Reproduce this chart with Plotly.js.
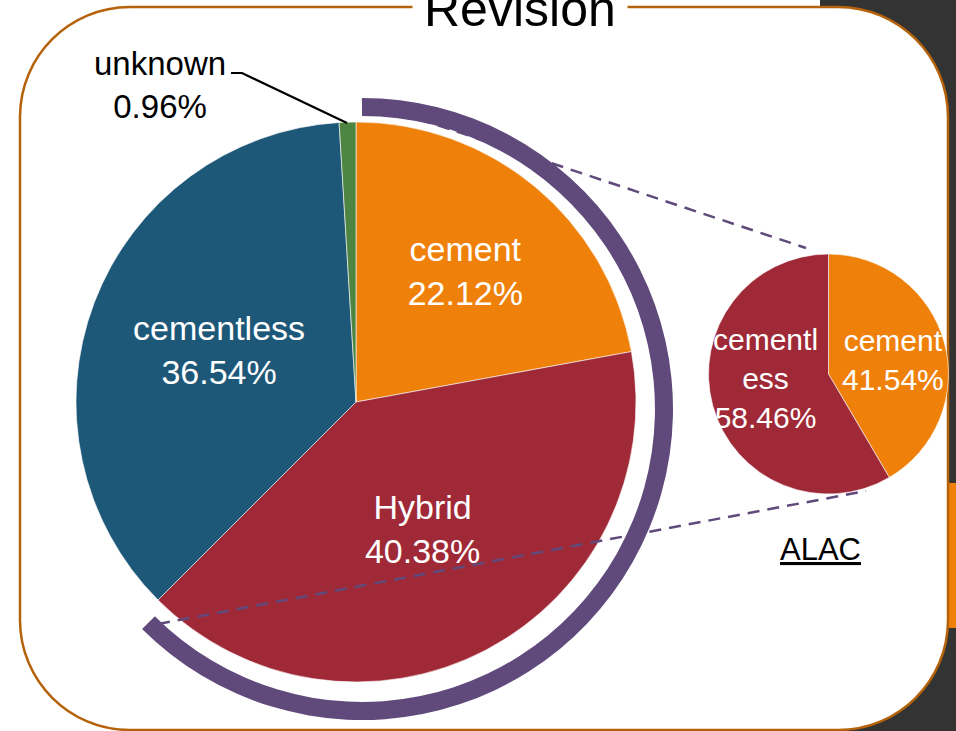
<!DOCTYPE html>
<html>
<head>
<meta charset="utf-8">
<script src="https://cdn.plot.ly/plotly-3.0.1.min.js"></script>
<style>html,body{margin:0;padding:0;background:#fff;}#chart{width:956px;height:731px;}</style>
</head>
<body>
<div id="chart"></div>
<script>
// ---- data ----
const mainLabels = ['cement', 'Hybrid', 'cementless', 'unknown'];
const mainValues = [22.12, 40.38, 36.54, 0.96];
const mainColors = ['#EF810B', '#A02937', '#1E5879', '#4F8542'];

const alacLabels = ['cement', 'cementless'];
const alacValues = [41.54, 58.46];
const alacColors = ['#EF810B', '#A02937'];

const chartTitle = 'Revision';
const alacTitle = 'ALAC';

// ---- geometry helpers (pixel -> paper) ----
const W = 956, H = 731;
const fx = x => x / W;
const fy = y => 1 - y / H;
const pt = (x, y) => fx(x).toFixed(5) + ',' + fy(y).toFixed(5);
function dom(cx, cy, r) {
  return {x: [fx(cx - r), fx(cx + r)], y: [fy(cy + r), fy(cy - r)]};
}

const FONT = 'Liberation Sans, Arial, sans-serif';
const pctText = v => v.toFixed(2) + '%';

// purple bracket arc around the slices exploded into the ALAC pie (cement + Hybrid)
const arcValues = [mainValues[0] + mainValues[1], mainValues[2] + mainValues[3]];

const traces = [
  {
    type: 'pie',
    values: arcValues,
    labels: ['arc', 'rest'],
    hole: 0.942,
    sort: false,
    direction: 'clockwise',
    rotation: 0,
    domain: dom(362, 409, 311),
    marker: {colors: ['#604A7B', 'rgba(0,0,0,0)'], line: {width: 0}},
    textinfo: 'none',
    hoverinfo: 'skip',
    showlegend: false
  },
  {
    type: 'pie',
    values: mainValues,
    labels: mainLabels,
    sort: false,
    direction: 'clockwise',
    rotation: 0,
    domain: dom(356, 402, 280),
    marker: {colors: mainColors, line: {color: '#ffffff', width: 0.6}},
    texttemplate: '%{label}<br>%{percent:.2%}',
    textposition: ['inside', 'inside', 'inside', 'none'],
    insidetextorientation: 'horizontal',
    insidetextfont: {family: FONT, size: 34, color: '#ffffff'},
    hoverinfo: 'label+percent',
    showlegend: false
  },
  {
    type: 'pie',
    values: alacValues,
    labels: alacLabels,
    sort: false,
    direction: 'clockwise',
    rotation: 0,
    domain: dom(828.5, 374, 120),
    marker: {colors: alacColors, line: {color: '#ffffff', width: 0.6}},
    textinfo: 'none',
    hoverinfo: 'label+percent',
    showlegend: false
  }
];

const wrapAt = (s, n) => s.length > n ? s.slice(0, n) + '<br>' + s.slice(n) : s;

const annotations = [
  {
    text: chartTitle, xref: 'paper', yref: 'paper', x: fx(520), y: fy(9),
    xanchor: 'center', yanchor: 'middle', showarrow: false,
    font: {family: FONT, size: 50, color: '#000000'},
    bgcolor: '#ffffff', borderpad: 11
  },
  {
    text: mainLabels[3] + '<br>' + pctText(mainValues[3]),
    xref: 'paper', yref: 'paper', x: fx(160), y: fy(85),
    xanchor: 'center', yanchor: 'middle', showarrow: false,
    font: {family: FONT, size: 33, color: '#000000'}
  },
  {
    text: alacLabels[0] + '<br>' + pctText(alacValues[0]),
    xref: 'paper', yref: 'paper', x: fx(893), y: fy(360),
    xanchor: 'center', yanchor: 'middle', showarrow: false,
    font: {family: FONT, size: 30, color: '#ffffff'}
  },
  {
    text: wrapAt(alacLabels[1], 7) + '<br>' + pctText(alacValues[1]),
    xref: 'paper', yref: 'paper', x: fx(765), y: fy(378),
    xanchor: 'center', yanchor: 'middle', showarrow: false,
    font: {family: FONT, size: 30, color: '#ffffff'}
  },
  {
    text: '<u>' + alacTitle + '</u>',
    xref: 'paper', yref: 'paper', x: fx(820), y: fy(549),
    xanchor: 'center', yanchor: 'middle', showarrow: false,
    font: {family: FONT, size: 31, color: '#000000'}
  }
];

// rounded frame
const L = 20, R = 948, T = 7, B = 730, rr = 110, k = 0.5523 * rr;
const framePath = 'M' + pt(L + rr, T) + ' L' + pt(R - rr, T) +
  ' C' + pt(R - rr + k, T) + ' ' + pt(R, T + rr - k) + ' ' + pt(R, T + rr) +
  ' L' + pt(R, B - rr) +
  ' C' + pt(R, B - rr + k) + ' ' + pt(R - rr + k, B) + ' ' + pt(R - rr, B) +
  ' L' + pt(L + rr, B) +
  ' C' + pt(L + rr - k, B) + ' ' + pt(L, B - rr + k) + ' ' + pt(L, B - rr) +
  ' L' + pt(L, T + rr) +
  ' C' + pt(L, T + rr - k) + ' ' + pt(L + rr - k, T) + ' ' + pt(L + rr, T) + ' Z';

const shapes = [
  {type: 'rect', xref: 'paper', yref: 'paper', x0: fx(820), x1: fx(956), y0: fy(731), y1: fy(0),
   fillcolor: '#333333', line: {width: 0}, layer: 'below'},
  {type: 'rect', xref: 'paper', yref: 'paper', x0: fx(949), x1: fx(956), y0: fy(628), y1: fy(483),
   fillcolor: '#EF810B', line: {width: 0}, layer: 'below'},
  {type: 'path', xref: 'paper', yref: 'paper', path: framePath,
   fillcolor: '#ffffff', line: {color: '#B5620A', width: 2.5}, layer: 'below'},
  // connector lines to ALAC pie
  {type: 'line', xref: 'paper', yref: 'paper', x0: fx(362), y0: fy(100), x1: fx(806), y1: fy(248),
   line: {color: '#604A7B', width: 2.5, dash: '12px,8px'}, layer: 'above'},
  {type: 'line', xref: 'paper', yref: 'paper', x0: fx(158), y0: fy(624), x1: fx(866), y1: fy(491),
   line: {color: '#604A7B', width: 2.5, dash: '12px,8px'}, layer: 'above'},
  // leader line for "unknown"
  {type: 'path', xref: 'paper', yref: 'paper',
   path: 'M' + pt(231, 73) + ' L' + pt(242, 73) + ' L' + pt(347, 123),
   line: {color: '#000000', width: 2.2}, layer: 'above'}
];

const layout = {
  width: W, height: H,
  margin: {l: 0, r: 0, t: 0, b: 0, pad: 0},
  paper_bgcolor: '#ffffff',
  plot_bgcolor: 'rgba(0,0,0,0)',
  showlegend: false,
  annotations: annotations,
  shapes: shapes
};

Plotly.newPlot('chart', traces, layout, {displayModeBar: false, staticPlot: true});
</script>
</body>
</html>
